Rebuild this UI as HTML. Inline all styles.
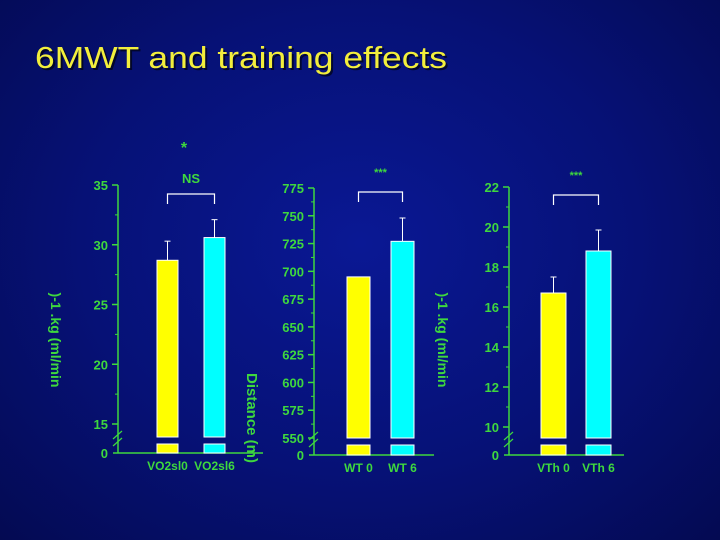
<!DOCTYPE html>
<html><head><meta charset="utf-8">
<style>
html,body{margin:0;padding:0;width:720px;height:540px;overflow:hidden;}
body{background:radial-gradient(ellipse at 50% 45%,#0a1894 0%,#061176 55%,#040a52 100%);}
svg{position:absolute;left:0;top:0;}
text{font-family:"Liberation Sans",sans-serif;font-weight:bold;}
</style></head>
<body>
<svg id="chart" width="720" height="540">
<text x="35" y="68" font-size="31" fill="#000" opacity="0.6" textLength="412" lengthAdjust="spacingAndGlyphs" style="font-weight:normal" transform="translate(2,2)">6MWT and training effects</text>
<text x="35" y="68" font-size="31" fill="#f2ee3c" textLength="412" lengthAdjust="spacingAndGlyphs" style="font-weight:normal">6MWT and training effects</text>
<text x="184" y="153" font-size="16" fill="#3ed83e" text-anchor="middle">*</text>
</svg>
<script>
const categories1=["VO2sl0","VO2sl6"];
const values1=[28.7,30.6];
const errors1=[30.3,32.1];
const ticks1=[15,20,25,30,35];
const categories2=["WT 0","WT 6"];
const values2=[695,727];
const errors2=[695,748];
const ticks2=[550,575,600,625,650,675,700,725,750,775];
const categories3=["VTh 0","VTh 6"];
const values3=[16.7,18.8];
const errors3=[17.5,19.85];
const ticks3=[10,12,14,16,18,20,22];
const sigLabels=["NS","***","***"];

const svg=document.getElementById('chart');
const NS='http://www.w3.org/2000/svg';
const G='#3ed83e';
function mk(tag,attrs){const e=document.createElementNS(NS,tag);for(const k in attrs)e.setAttribute(k,attrs[k]);svg.appendChild(e);return e;}

function panel(p){
  const y=v=>p.yTop+(p.max-v)*(p.yBot-p.yTop)/(p.max-p.min);
  const ax=mk('line',{x1:p.ax,y1:p.yTop,x2:p.ax,y2:p.zero,stroke:G,'stroke-width':1.5});
  
  
  const xa=mk('line',{x1:p.ax-5,y1:p.zero,x2:p.ax+p.xlen,y2:p.zero,stroke:G,'stroke-width':1.5});
  
  
  const step=p.ticks[1]-p.ticks[0];
  p.ticks.forEach((t,i)=>{
    mk('line',{x1:p.ax-6,y1:y(t),x2:p.ax,y2:y(t),stroke:G,'stroke-width':1.5});
    if(i<p.ticks.length-1)mk('line',{x1:p.ax-3,y1:y(t+step/2),x2:p.ax,y2:y(t+step/2),stroke:G,'stroke-width':1});
    const tx=mk('text',{x:p.ax-10,y:y(t)+5,'font-size':13,fill:G,'text-anchor':'end'});
    tx.textContent=t;
    
    
  });
  const z=mk('text',{x:p.ax-10,y:p.zero+5,'font-size':13,fill:G,'text-anchor':'end'});z.textContent='0';
  
  
  const brk=p.brk;
  mk('line',{x1:p.ax-5,y1:brk+2,x2:p.ax+4,y2:brk-6,stroke:G,'stroke-width':1.2});
  mk('line',{x1:p.ax-5,y1:brk+9,x2:p.ax+4,y2:brk+1,stroke:G,'stroke-width':1.2});
  const cols=['#ffff00','#00ffff'];
  p.vals.forEach((v,i)=>{
    const bx=p.bx[i];
    const r=mk('rect',{x:bx,y:y(v),width:p.bw,height:brk-y(v),fill:cols[i],stroke:'#fff','stroke-width':1});
    
    
    const r2=mk('rect',{x:bx,y:brk+7,width:p.bw,height:p.zero-brk-7,fill:cols[i],stroke:'#fff','stroke-width':1});
    
    
    const e=p.errs[i];
    if(e>v){
      const l=mk('line',{x1:bx+p.bw/2,y1:y(v),x2:bx+p.bw/2,y2:y(e),stroke:'#fff','stroke-width':1});
      
      
      mk('line',{x1:bx+p.bw/2-3,y1:y(e),x2:bx+p.bw/2+3,y2:y(e),stroke:'#fff','stroke-width':1});
    }
    const c=mk('text',{x:bx+p.bw/2,y:p.zero+17,'font-size':12,fill:G,'text-anchor':'middle'});
    c.textContent=p.cats[i];
    
    
  });
  const x1=p.bx[0]+p.bw/2,x2=p.bx[1]+p.bw/2;
  const br=mk('path',{d:`M${x1},${p.brY+10}V${p.brY}H${x2}V${p.brY+10}`,fill:'none',stroke:'#fff','stroke-width':1.2});
  
  
  const s=mk('text',{x:(x1+x2)/2,y:p.sigY,'font-size':p.sigSize,fill:G,'text-anchor':'middle'});
  s.textContent=p.sig;
  
  
}
panel({id:'vo2-panel',ax:118,yTop:185,yBot:424,brk:437,min:15,max:35,zero:453,xlen:145,ticks:ticks1,vals:values1,errs:errors1,cats:categories1,bx:[157,204],bw:21,brY:194,sigY:183,sig:sigLabels[0],sigSize:13});
panel({id:'walk-panel',ax:314,yTop:188,yBot:438,brk:438,min:550,max:775,zero:455,xlen:120,ticks:ticks2,vals:values2,errs:errors2,cats:categories2,bx:[347,391],bw:23,brY:192,sigY:176,sig:sigLabels[1],sigSize:11});
panel({id:'vth-panel',ax:509,yTop:187,yBot:427,brk:438,min:10,max:22,zero:455,xlen:115,ticks:ticks3,vals:values3,errs:errors3,cats:categories3,bx:[541,586],bw:25,brY:195,sigY:179,sig:sigLabels[2],sigSize:11});

function rot(x,y,txt,name,size){
  const t=mk('text',{x:x,y:y,'font-size':size,fill:G,'text-anchor':'middle',transform:`rotate(90 ${x} ${y})`});
  t.textContent=txt;
  
  
}
rot(51,340,')-1  .kg      (ml/min','vo2-y-axis-title',14);
rot(247,418,'Distance (m)','distance-y-axis-title',15);
rot(438,340,')-1  .kg      (ml/min','vth-y-axis-title',14);
</script>
</body></html>
